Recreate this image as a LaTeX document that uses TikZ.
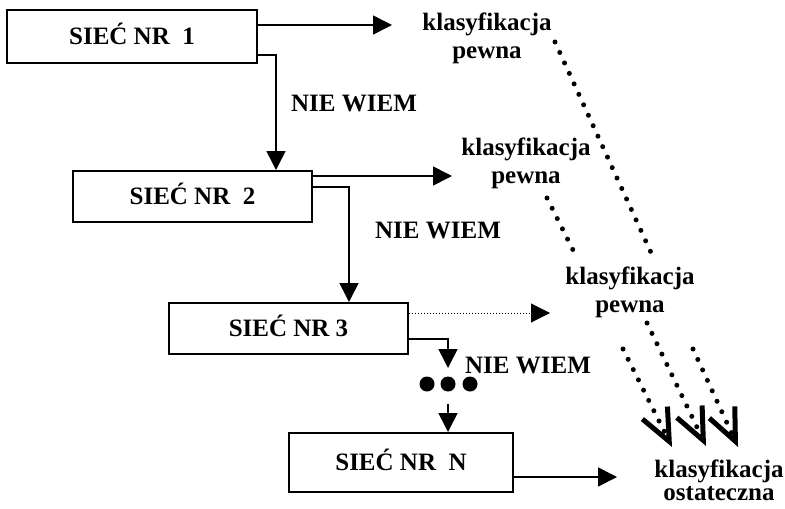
\documentclass[tikz,border=0pt]{standalone}
\usepackage{fontspec}
\setmainfont{Liberation Serif}
\usetikzlibrary{arrows.meta}

\tikzset{
  pismo/.style={font=\fontsize{12.5}{14}\selectfont\bfseries},
  siec/.style={pismo, draw, line width=1pt, inner sep=0pt, text height=8.3pt, text depth=0pt},
  napis/.style={pismo, inner sep=0pt, text height=8.3pt, text depth=0pt},
  klas/.style={pismo, align=center, inner sep=0pt},
  kropka/.style={circle, fill, inner sep=0pt, minimum size=7.5pt},
  strz/.style={line width=0.8pt, -{Triangle[length=9.5pt,width=9.5pt]}},
  kropkowana/.style={line width=0.5pt, dash pattern=on 0.5pt off 1pt},
  grube/.style={line width=2.5pt, line cap=round, dash pattern=on 0pt off 5.75pt},
  fajka/.style={grube, -{Straight Barb[length=16pt,width=14pt]}}
}

\begin{document}
\begin{tikzpicture}[x=0.5pt,y=-0.5pt]
\useasboundingbox (0,0) rectangle (785,508);

\node[siec, minimum width=125pt, minimum height=26.5pt] (box1) at (132,36.5) {SIEĆ NR\ \ 1};
\node[siec, minimum width=119.5pt, minimum height=25.5pt] (box2) at (192.5,196.5) {SIEĆ NR\ \ 2};
\node[siec, minimum width=119.5pt, minimum height=25.5pt] (box3) at (288.5,328.5) {SIEĆ NR 3};
\node[siec, minimum width=112pt, minimum height=29.5pt] (boxN) at (401,462.5) {SIEĆ NR\ \ N};

\node[napis] (nw1) at (354,103.5) {NIE WIEM};
\node[napis] (nw2) at (438,230.5) {NIE WIEM};
\node[napis] (nw3) at (528,365.5) {NIE WIEM};

\node[klas] (kp1) at (487,38.5) {klasyfikacja\\pewna};
\node[klas] (kp2) at (526,163.5) {klasyfikacja\\pewna};
\node[klas] (kp3) at (630,292.5) {klasyfikacja\\pewna};
\node[klas] (ko) at (719,480.5) {klasyfikacja\\[-2.5pt]ostateczna};

\foreach \x [count=\i] in {427,448,470}
  \node[kropka] (dot\i) at (\x,384) {};

\coordinate (e1) at (392,25);
\coordinate (k1) at (276,55);
\coordinate (e2) at (452,176);
\coordinate (k2) at (349,187);
\coordinate (e3) at (550,313);
\coordinate (k3) at (448,339);
\coordinate (e4) at (448,368);
\coordinate (e5) at (617,477);

\draw[strz] (box1.east |- e1) -- (e1);
\draw[strz] (box1.east |- k1) -| (box2.north -| k1);
\draw[strz] (box2.east |- e2) -- (e2);
\draw[strz] (box2.east |- k2) -| (box3.north -| k2);
\draw[strz, kropkowana] (box3.east |- e3) -- (e3);
\draw[strz] (box3.east |- k3) -| (e4);
\draw[strz] ([yshift=-6pt]dot2.south) -- (boxN.north -| dot2);
\draw[strz] (boxN.east |- e5) -- (e5);

% kropkowane linie do klasyfikacji ostatecznej
\coordinate (a1) at (555,42);  \coordinate (b1) at (653,257);
\coordinate (a2) at (547,198); \coordinate (b2) at (577,258);
\coordinate (a3) at (623,349); \coordinate (b3) at (672,447);
\coordinate (a4) at (647,323); \coordinate (b4) at (706,446);
\coordinate (a5) at (693,349); \coordinate (b5) at (738,447);

\draw[grube] (a1) -- (b1);
\draw[grube] (a2) -- (b2);
\draw[fajka] (a3) -- (b3);
\draw[fajka] (a4) -- (b4);
\draw[fajka] (a5) -- (b5);
\end{tikzpicture}
\end{document}
